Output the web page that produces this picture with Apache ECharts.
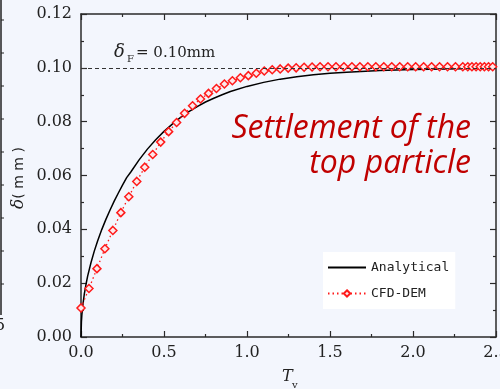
<!DOCTYPE html>
<html>
<head>
<meta charset="utf-8">
<script src="https://cdn.jsdelivr.net/npm/echarts@6/dist/echarts.min.js"></script>
<style>
  html, body { margin: 0; padding: 0; background: #f3f6fd; }
  #chart { width: 500px; height: 389px; }
</style>
</head>
<body>
<div id="chart"></div>
<script>
// Dimensionless time factor T_v and settlement δ (mm) of the top particle
var analyticalT = [0, 0.0025, 0.005, 0.01, 0.02, 0.03, 0.04, 0.06, 0.08, 0.10, 0.125, 0.15, 0.175,
  0.2, 0.225, 0.25, 0.275, 0.3, 0.35, 0.4, 0.45, 0.5, 0.55, 0.6, 0.65, 0.7, 0.75, 0.8, 0.85, 0.9,
  1.0, 1.1, 1.2, 1.3, 1.4, 1.5, 1.6, 1.8, 2.0, 2.2, 2.5];
var analyticalDelta = [0, 0.0056, 0.0080, 0.0113, 0.0160, 0.0195, 0.0226, 0.0276, 0.0319, 0.0357,
  0.0399, 0.0437, 0.0472, 0.0505, 0.0535, 0.0564, 0.0592, 0.0613, 0.0658, 0.0698, 0.0733, 0.0764,
  0.0791, 0.0816, 0.0837, 0.0856, 0.0873, 0.0887, 0.0900, 0.0912, 0.0931, 0.0946, 0.0958, 0.0967,
  0.0974, 0.0980, 0.0984, 0.0990, 0.0994, 0.0996, 0.0998];

var cfdT = [0, 0.048, 0.096, 0.144, 0.192, 0.240, 0.288, 0.336, 0.384, 0.432, 0.480, 0.528, 0.576,
  0.624, 0.672, 0.720, 0.768, 0.816, 0.864, 0.912, 0.960, 1.008, 1.056, 1.104, 1.152, 1.200, 1.248,
  1.296, 1.344, 1.392, 1.440, 1.488, 1.536, 1.584, 1.632, 1.680, 1.728, 1.776, 1.824, 1.872, 1.920,
  1.968, 2.016, 2.064, 2.112, 2.160, 2.208, 2.256, 2.300, 2.330, 2.355, 2.380, 2.405, 2.430, 2.455, 2.480];
var cfdDelta = [0.0108, 0.0180, 0.0254, 0.0328, 0.0396, 0.0462, 0.0521, 0.0578, 0.0631, 0.0678,
  0.0724, 0.0763, 0.0797, 0.0831, 0.0859, 0.0884, 0.0905, 0.0923, 0.0940, 0.0952, 0.0963, 0.0971,
  0.0980, 0.0988, 0.0993, 0.0996, 0.0999, 0.1000, 0.1002, 0.1003, 0.1004, 0.1004, 0.1004, 0.1004,
  0.1004, 0.1004, 0.1004, 0.1004, 0.1004, 0.1004, 0.1004, 0.1004, 0.1004, 0.1004, 0.1004, 0.1004,
  0.1004, 0.1004, 0.1004, 0.1004, 0.1004, 0.1004, 0.1004, 0.1004, 0.1004, 0.1004];

var finalSettlement = 0.10;

var xTicks = { min: 0, max: 2.5, interval: 0.5 };
var yTicks = { min: 0, max: 0.12, interval: 0.02 };

function pairs(xs, ys) {
  return xs.map(function (x, i) { return [x, ys[i]]; });
}

var axisColor = '#2a2a2a';
var labelFont = { fontFamily: 'DejaVu Serif', fontSize: 16, color: '#222' };

function makeAxis(base, extra) {
  return Object.assign({
    type: 'value',
    min: base.min,
    max: base.max,
    interval: base.interval,
    axisLine: { show: true, onZero: false, lineStyle: { color: axisColor, width: 1.5 } },
    axisTick: { show: true, inside: true, length: 6, lineStyle: { color: axisColor, width: 1.2 } },
    minorTick: { show: true, splitNumber: 2, length: 3, lineStyle: { color: axisColor, width: 1.2 } },
    splitLine: { show: false },
    minorSplitLine: { show: false }
  }, extra);
}

// Pieces of the neighbouring panel's axis at the left edge
var edgeGraphics = [
  { type: 'line', shape: { x1: 1, y1: 0, x2: 1, y2: 315 }, style: { stroke: '#222', lineWidth: 1.5 }, silent: true }
];
[20, 53, 86, 119, 152, 185, 218, 251, 284].forEach(function (y) {
  edgeGraphics.push({ type: 'line', shape: { x1: 1, y1: y, x2: 4, y2: y }, style: { stroke: '#222', lineWidth: 1 }, silent: true });
});
edgeGraphics.push({ type: 'text', left: -5, top: 318, style: { text: '5', font: '16px "DejaVu Serif"', fill: '#222' } });

var chart = echarts.init(document.getElementById('chart'), null, { renderer: 'canvas' });

chart.setOption({
  backgroundColor: '#f3f6fd',
  animation: false,
  grid: { left: 81, right: 4, top: 14, bottom: 52, outerBoundsMode: 'none', containLabel: false },
  xAxis: [
    makeAxis(xTicks, {
      position: 'bottom',
      axisLabel: Object.assign({ margin: 8, formatter: function (v) { return v.toFixed(1); } }, labelFont)
    }),
    makeAxis(xTicks, { position: 'top', axisLabel: { show: false } })
  ],
  yAxis: [
    makeAxis(yTicks, {
      position: 'left',
      axisLabel: Object.assign({ margin: 9, formatter: function (v) { return v.toFixed(2); } }, labelFont)
    }),
    makeAxis(yTicks, { position: 'right', axisLabel: { show: false } })
  ],
  legend: {
    orient: 'vertical',
    left: 323,
    top: 252,
    backgroundColor: '#ffffff',
    padding: [9, 6, 9, 4],
    itemWidth: 38,
    itemHeight: 8,
    itemGap: 13,
    textStyle: { fontFamily: 'DejaVu Sans Mono', fontSize: 13, color: '#222' },
    data: [
      { name: 'Analytical', itemStyle: { opacity: 0 } },
      { name: 'CFD-DEM' }
    ]
  },
  series: [
    {
      name: 'Analytical',
      type: 'line',
      data: pairs(analyticalT, analyticalDelta),
      showSymbol: false,
      symbol: 'none',
      smooth: false,
      lineStyle: { color: '#000', width: 1.5 },
      itemStyle: { color: '#000' },
      markLine: {
        silent: true,
        symbol: ['none', 'none'],
        label: { show: false },
        lineStyle: { color: '#333', type: [4, 3], width: 1 },
        data: [{ yAxis: finalSettlement }]
      },
      z: 3
    },
    {
      name: 'CFD-DEM',
      type: 'line',
      data: pairs(cfdT, cfdDelta),
      symbol: 'diamond',
      symbolSize: 8,
      lineStyle: { color: '#ff1a1a', width: 1.3, type: [1.5, 3] },
      itemStyle: { color: '#fde8ea', borderColor: '#ff1a1a', borderWidth: 1.5 },
      z: 4
    }
  ],
  graphic: edgeGraphics.concat([
    // label of the final settlement line
    { type: 'text', left: 114, top: 43, style: { text: 'δ', font: 'italic 18px "DejaVu Serif"', fill: '#222' } },
    { type: 'text', left: 127, top: 54, style: { text: 'F', font: '10px "DejaVu Serif"', fill: '#222' } },
    { type: 'text', left: 136, top: 46, style: { text: '= 0.10mm', font: '15px "DejaVu Serif"', fill: '#222' } },
    // annotation
    {
      type: 'text', x: 471, y: 146,
      style: {
        text: 'Settlement of the\ntop particle',
        font: 'italic 32px "Open Sans"',
        fill: '#c00000',
        align: 'right',
        verticalAlign: 'middle',
        lineHeight: 35
      }
    },
    // y-axis title
    {
      type: 'text', x: 19, y: 178, rotation: Math.PI / 2,
      style: {
        text: '{d|δ}{u|( m m )}',
        align: 'center',
        verticalAlign: 'middle',
        rich: {
          d: { font: 'italic 17px "DejaVu Serif"', fill: '#222' },
          u: { font: '14px "DejaVu Sans"', fill: '#222' }
        }
      }
    },
    // x-axis title
    { type: 'text', left: 282, top: 369, style: { text: 'T', font: 'italic 16px "DejaVu Serif"', fill: '#222' } },
    { type: 'text', left: 292, top: 380, style: { text: 'v', font: '10px "DejaVu Serif"', fill: '#222' } }
  ])
});
</script>
</body>
</html>
